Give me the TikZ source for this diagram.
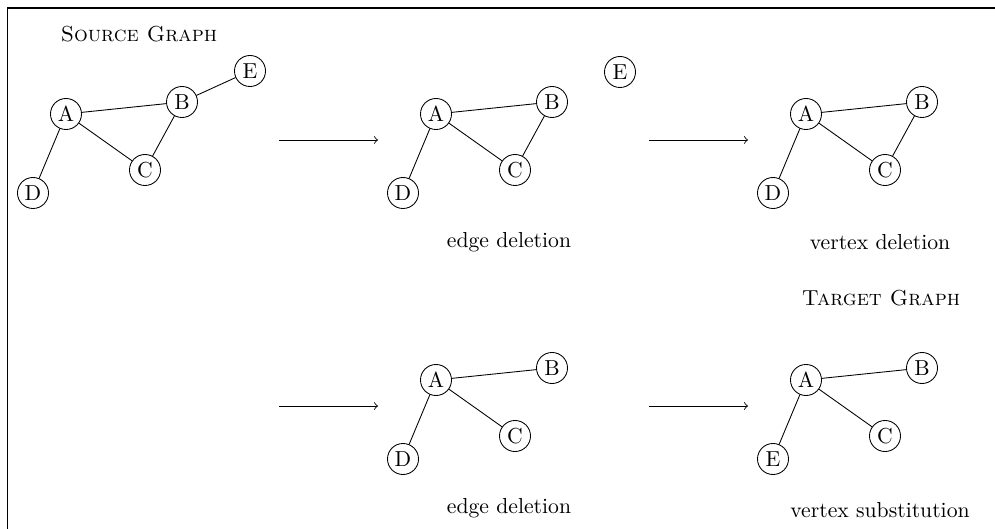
\documentclass[tikz,border=0pt]{standalone}
\begin{document}
\begin{tikzpicture}[x=0.4608pt,y=-0.4608pt,
  vtx/.style={draw,circle,inner sep=0pt,minimum size=14.3pt,line width=0.4pt},
  edg/.style={line width=0.4pt},
  arr/.style={->,line width=0.4pt},
  lbl/.style={inner sep=0pt}]
\useasboundingbox (0,0) rectangle (995,529);
\draw[line width=0.5pt] (7.5,540) -- (7.5,8) -- (1000,8);
% source graph
\node[lbl] (t1) at (139,34) {\textsc{Source Graph}};
\node[vtx] (a1) at (66,114) {A};
\node[vtx] (b1) at (182,102) {B};
\node[vtx] (c1) at (145,170) {C};
\node[vtx] (d1) at (33,193) {D};
\node[vtx] (e1) at (250,71) {E};
\draw[edg] (a1)--(b1) (a1)--(c1) (b1)--(c1) (a1)--(d1) (b1)--(e1);
% graph 2
\node[vtx] (a2) at (436,114) {A};
\node[vtx] (b2) at (552,102) {B};
\node[vtx] (c2) at (515,170) {C};
\node[vtx] (d2) at (403,193) {D};
\node[vtx] (e2) at (620,72) {E};
\draw[edg] (a2)--(b2) (a2)--(c2) (b2)--(c2) (a2)--(d2);
\node[lbl] (l2) at (509,242) {edge deletion};
% graph 3
\node[vtx] (a3) at (806,114) {A};
\node[vtx] (b3) at (922,102) {B};
\node[vtx] (c3) at (885,170) {C};
\node[vtx] (d3) at (773,193) {D};
\draw[edg] (a3)--(b3) (a3)--(c3) (b3)--(c3) (a3)--(d3);
\node[lbl] (l3) at (880,242) {vertex deletion};
% arrows top
\coordinate (p1) at (279,140); \coordinate (q1) at (378,140);
\coordinate (p2) at (649,140); \coordinate (q2) at (748,140);
\draw[arr] (p1) -- (q1);
\draw[arr] (p2) -- (q2);
% target label
\node[lbl] (t2) at (881,298) {\textsc{Target Graph}};
% graph 4
\node[vtx] (a4) at (436,380) {A};
\node[vtx] (b4) at (552,368) {B};
\node[vtx] (c4) at (515,436) {C};
\node[vtx] (d4) at (403,459) {D};
\draw[edg] (a4)--(b4) (a4)--(c4) (a4)--(d4);
\node[lbl] (l4) at (509,508) {edge deletion};
% graph 5
\node[vtx] (a5) at (806,380) {A};
\node[vtx] (b5) at (922,368) {B};
\node[vtx] (c5) at (885,436) {C};
\node[vtx] (e5) at (773,459) {E};
\draw[edg] (a5)--(b5) (a5)--(c5) (a5)--(e5);
\node[lbl] (l5) at (880,510) {vertex substitution};
% arrows bottom
\coordinate (p3) at (279,406); \coordinate (q3) at (378,406);
\coordinate (p4) at (649,406); \coordinate (q4) at (748,406);
\draw[arr] (p3) -- (q3);
\draw[arr] (p4) -- (q4);
\end{tikzpicture}
\end{document}
